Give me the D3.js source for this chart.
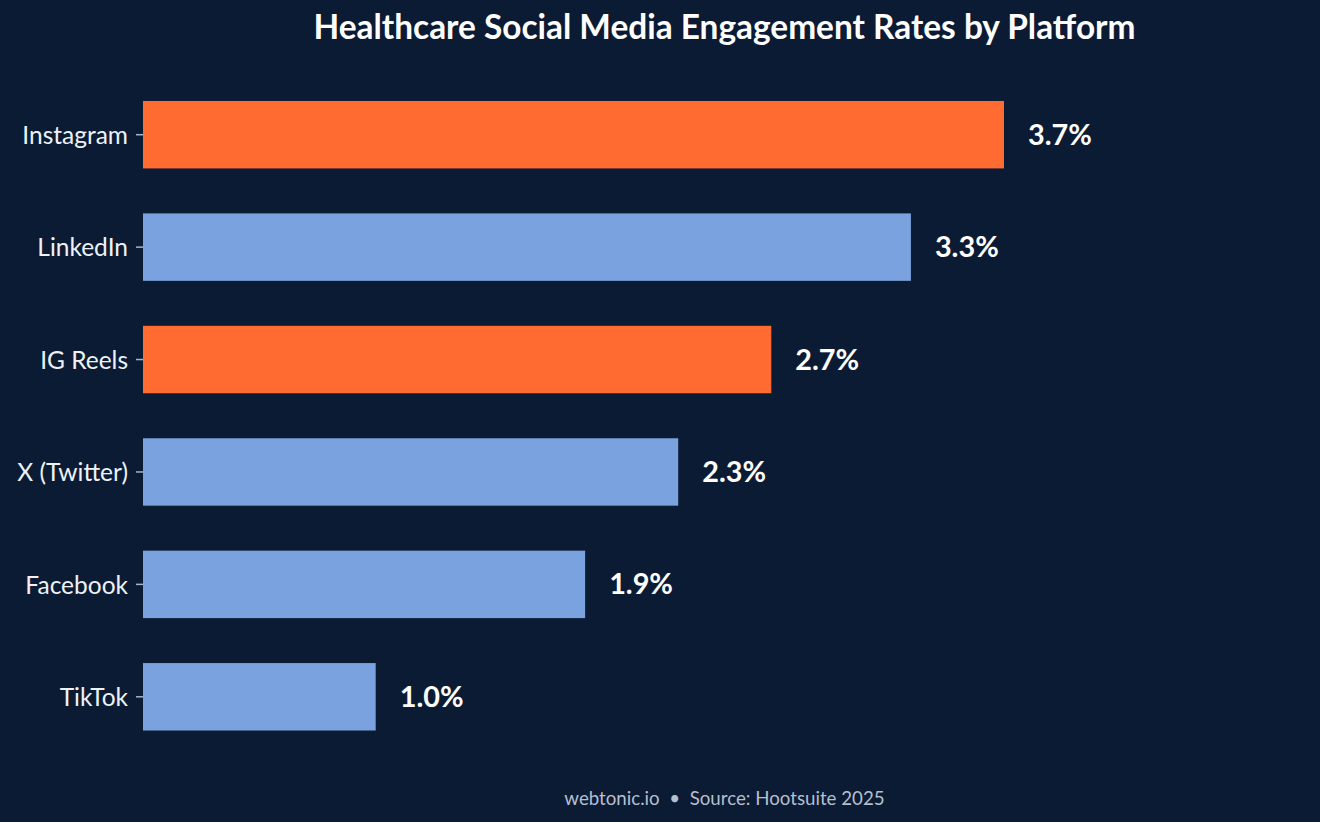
<!DOCTYPE html>
<html>
<head>
<meta charset="utf-8">
<script src="https://cdn.jsdelivr.net/npm/d3@7"></script>
<style>
  html, body { margin: 0; padding: 0; background: #0c1b34; }
  svg { display: block; font-family: Lato, "Noto Sans", sans-serif; }
</style>
</head>
<body>
<svg id="chart" width="1320" height="822"></svg>
<script>
const platforms = ["Instagram", "LinkedIn", "IG Reels", "X (Twitter)", "Facebook", "TikTok"];
const rates = [3.7, 3.3, 2.7, 2.3, 1.9, 1.0];
const highlighted = ["Instagram", "IG Reels"];
const titleText = "Healthcare Social Media Engagement Rates by Platform";
const footerText = "webtonic.io  \u2022  Source: Hootsuite 2025";

const W = 1320, H = 822;
const svg = d3.select("#chart");
svg.append("rect").attr("width", W).attr("height", H).attr("fill", "#0c1b34");

const data = platforms.map((p, i) => ({ platform: p, rate: rates[i] }));

const x = d3.scaleLinear().domain([0, 4.5]).range([143, 143 + 4.5 * 232.7]);
const y = d3.scaleBand().domain(platforms).range([78.5, 753]).paddingInner(0.4).paddingOuter(0.2);

svg.append("g")
  .selectAll("rect")
  .data(data)
  .join("rect")
  .attr("x", x(0))
  .attr("y", d => y(d.platform))
  .attr("width", d => x(d.rate) - x(0))
  .attr("height", y.bandwidth())
  .attr("fill", d => highlighted.includes(d.platform) ? "#ff6b30" : "#7aa2de");

const yAxis = svg.append("g")
  .attr("transform", `translate(${x(0)},0)`)
  .call(d3.axisLeft(y).tickSize(7).tickPadding(8));
yAxis.select(".domain").remove();
yAxis.selectAll(".tick line").attr("stroke", "#a9b4c4").attr("stroke-width", 1.5);
yAxis.selectAll(".tick text")
  .attr("fill", "#eef2f7")
  .attr("dy", "0.38em")
  .style("font-size", "24.5px")
  .style("font-family", "Lato, sans-serif");

svg.append("g")
  .selectAll("text")
  .data(data)
  .join("text")
  .attr("x", d => x(d.rate) + 24)
  .attr("y", d => y(d.platform) + y.bandwidth() / 2)
  .attr("dy", "0.35em")
  .attr("fill", "#ffffff")
  .style("font-size", "28.8px")
  .style("font-weight", "700")
  .text(d => d.rate.toFixed(1) + "%");

svg.append("text")
  .attr("x", 724.5)
  .attr("y", 39)
  .attr("text-anchor", "middle")
  .attr("fill", "#ffffff")
  .style("font-size", "33.4px")
  .style("font-weight", "700")
  .text(titleText);

svg.append("text")
  .attr("x", 724.5)
  .attr("y", 805)
  .attr("text-anchor", "middle")
  .attr("fill", "#b4bfcf")
  .style("font-size", "18.7px")
  .style("white-space", "pre")
  .attr("xml:space", "preserve")
  .text(footerText);
</script>
</body>
</html>
